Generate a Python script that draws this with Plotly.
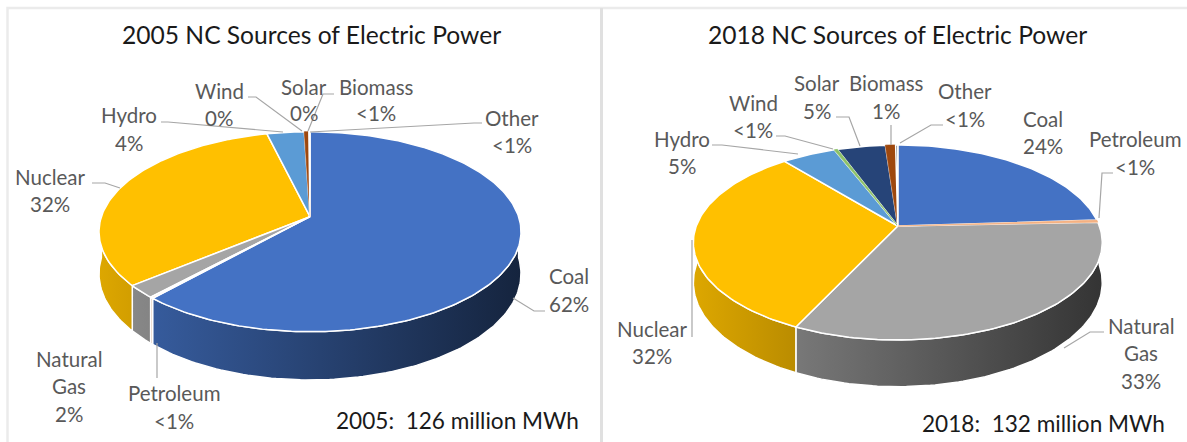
import math
import plotly.graph_objects as go

categories = ["Coal", "Petroleum", "Natural Gas", "Nuclear", "Hydro", "Wind", "Solar", "Biomass", "Other"]
values_2005 = [61.7, 0.2, 2.1, 32.2, 3.3, 0.0, 0.0, 0.4, 0.1]
values_2018 = [24.0, 0.35, 32.7, 32.0, 5.0, 0.3, 4.5, 0.95, 0.2]
colors = ["#4472C4", "#F4B183", "#A5A5A5", "#FFC000", "#5B9BD5", "#8CC168", "#264478", "#9E480E", "#636363"]

title_2005 = "2005 NC Sources of Electric Power"
title_2018 = "2018 NC Sources of Electric Power"
note_2005 = "2005:  126 million MWh"
note_2018 = "2018:  132 million MWh"

# label text, (x, [y of each line])
labels_2005 = [
    (["Coal", "62%"], 569, [276, 304]),
    (["Petroleum", "<1%"], 174, [393, 421]),
    (["Natural", "Gas", "2%"], 69, [359, 386, 414]),
    (["Nuclear", "32%"], 50, [177, 204]),
    (["Hydro", "4%"], 129, [115, 143]),
    (["Wind", "0%"], 219, [91, 118]),
    (["Solar", "0%"], 304, [87, 113]),
    (["Biomass", "<1%"], 376, [87, 113]),
    (["Other", "<1%"], 512, [118, 145]),
]
labels_2018 = [
    (["Coal", "24%"], 1043, [119, 146]),
    (["Petroleum", "<1%"], 1135, [139, 167]),
    (["Natural", "Gas", "33%"], 1141, [326, 353, 381]),
    (["Nuclear", "32%"], 652, [329, 356]),
    (["Hydro", "5%"], 682, [139, 166]),
    (["Wind", "<1%"], 753, [103, 130]),
    (["Solar", "5%"], 817, [83, 111]),
    (["Biomass", "1%"], 886, [83, 111]),
    (["Other", "<1%"], 965, [91, 119]),
]
leaders = [
    [(248, 97), (256, 97), (302, 131)],
    [(334, 94), (323, 94), (308, 131)],
    [(161, 122), (168, 122), (283, 132)],
    [(482, 123), (474, 123), (310, 132)],
    [(92, 183), (105, 183), (120, 188)],
    [(545, 311), (534, 311), (513, 298)],
    [(157, 378), (157, 343)],
    [(712, 145), (722, 145), (798, 154)],
    [(776, 136), (785, 136), (833, 149)],
    [(836, 117), (849, 117), (860, 146)],
    [(891, 125), (891, 145)],
    [(943, 125), (931, 125), (900, 143)],
    [(1113, 173), (1102, 173), (1099, 218)],
    [(692, 337), (692, 240)],
    [(1104, 332), (1090, 332), (1064, 348)],
]

FONT = "Lato"
LABEL_COLOR = "#595959"
TITLE_COLOR = "#1a1a1a"


def rim(th, g, drop=False):
    c = math.cos(th)
    d = 1 + g["k"] * c
    x = g["cx"] + g["A"] * math.sin(th) / d
    y = g["cy"] - g["B"] * c / d
    if drop:
        y += g["D"] / d
    return x, y


def arc(a0, a1):
    n = max(2, int(abs(a1 - a0) / 0.02) + 2)
    return [a0 + (a1 - a0) * i / (n - 1) for i in range(n)]


def shade(hexcol, b):
    r, g, bl = (int(hexcol[i:i + 2], 16) for i in (1, 3, 5))
    return f"rgb({int(r * b)},{int(g * b)},{int(bl * b)})"


def add_pie(fig, values, g):
    total = sum(values)
    spans, acc = [], 0.0
    for v in values:
        spans.append((acc / total * 2 * math.pi, (acc + v) / total * 2 * math.pi))
        acc += v
    xleft, xright = g["cx"] - g["a"], g["cx"] + g["a"]
    # side walls
    for (a0, a1), col, v in zip(spans, colors, values):
        lo, hi = max(a0, math.pi / 2), min(a1, 3 * math.pi / 2)
        if v <= 0 or hi <= lo:
            continue
        ts = arc(lo, hi)
        top = [rim(t, g) for t in ts]
        bot = [rim(t, g, True) for t in reversed(ts)]
        pts = top + bot + [top[0]]
        xs = [p[0] for p in pts]
        ys = [p[1] for p in pts]
        x0, x1 = min(xs), max(xs)
        t0 = (x0 - xleft) / (xright - xleft)
        t1 = (x1 - xleft) / (xright - xleft)
        fig.add_trace(go.Scatter(
            x=xs, y=ys, mode="lines", fill="toself",
            line=dict(color="white", width=1.5),
            fillgradient=dict(type="horizontal", start=x0, stop=x1,
                              colorscale=[[0, shade(col, 0.87 - 0.55 * t0)],
                                          [1, shade(col, 0.87 - 0.55 * t1)]]),
            hoverinfo="skip", showlegend=False))
    # top faces: wide slices first, then slivers so their colour stays visible
    slices = [z for z in zip(spans, colors, values, categories) if z[2] > 0]
    slices.sort(key=lambda z: -z[2])
    for (a0, a1), col, v, name in slices:
        pts = [(g["cx"], g["cy"])] + [rim(t, g) for t in arc(a0, a1)] + [(g["cx"], g["cy"])]
        sliver = 0.25 <= v < 1
        fig.add_trace(go.Scatter(
            x=[p[0] for p in pts], y=[p[1] for p in pts],
            mode="lines", fill="toself", fillcolor=col,
            line=dict(color=col if sliver else "white", width=0.7 if sliver else 1.5),
            name=name, hoverinfo="name", showlegend=False))


geom_2005 = dict(cx=310, cy=216.7, A=208.6, B=97.75, k=0.15, D=41, a=211)
geom_2018 = dict(cx=897.8, cy=226, A=201.5, B=94.7, k=0.169, D=38.8, a=204.4)

fig = go.Figure()
add_pie(fig, values_2005, geom_2005)
add_pie(fig, values_2018, geom_2018)

ann = []


def text(s, x, y, size, color):
    ann.append(dict(text=s, x=x, y=y, xref="x", yref="y", showarrow=False,
                    xanchor="center", yanchor="middle",
                    font=dict(family=FONT, size=size, color=color)))


for lines, x, ys in labels_2005 + labels_2018:
    for s, y in zip(lines, ys):
        text(s.replace("<", "&lt;"), x, y, 20.5, LABEL_COLOR)
text(title_2005, 311, 34, 24.6, TITLE_COLOR)
text(title_2018, 897, 34, 24.6, TITLE_COLOR)
text(note_2005, 457, 420, 22.6, TITLE_COLOR)
text(note_2018, 1043, 423, 22.6, TITLE_COLOR)

shapes = []
for pts in leaders:
    path = "M " + " L ".join(f"{x} {y}" for x, y in pts)
    shapes.append(dict(type="path", path=path, xref="x", yref="y",
                       line=dict(color="#A6A6A6", width=1.2)))
# panel frames
shapes.append(dict(type="path", path="M 7.5 442 L 7.5 8 L 1187 8", xref="x", yref="y", line=dict(color="#EBEBEB", width=2.5)))
shapes.append(dict(type="path", path="M 601.5 442 L 601.5 8", xref="x", yref="y", line=dict(color="#E0E0E0", width=3)))

fig.update_layout(
    width=1187, height=442, margin=dict(l=0, r=0, t=0, b=0),
    paper_bgcolor="white", plot_bgcolor="white", showlegend=False,
    xaxis=dict(range=[0, 1187], visible=False, fixedrange=True),
    yaxis=dict(range=[442, 0], visible=False, fixedrange=True),
    annotations=ann, shapes=shapes,
)
fig.write_html("out.html", config={"displayModeBar": False},
               post_script="document.body.style.margin='0';document.body.style.overflow='hidden';")
